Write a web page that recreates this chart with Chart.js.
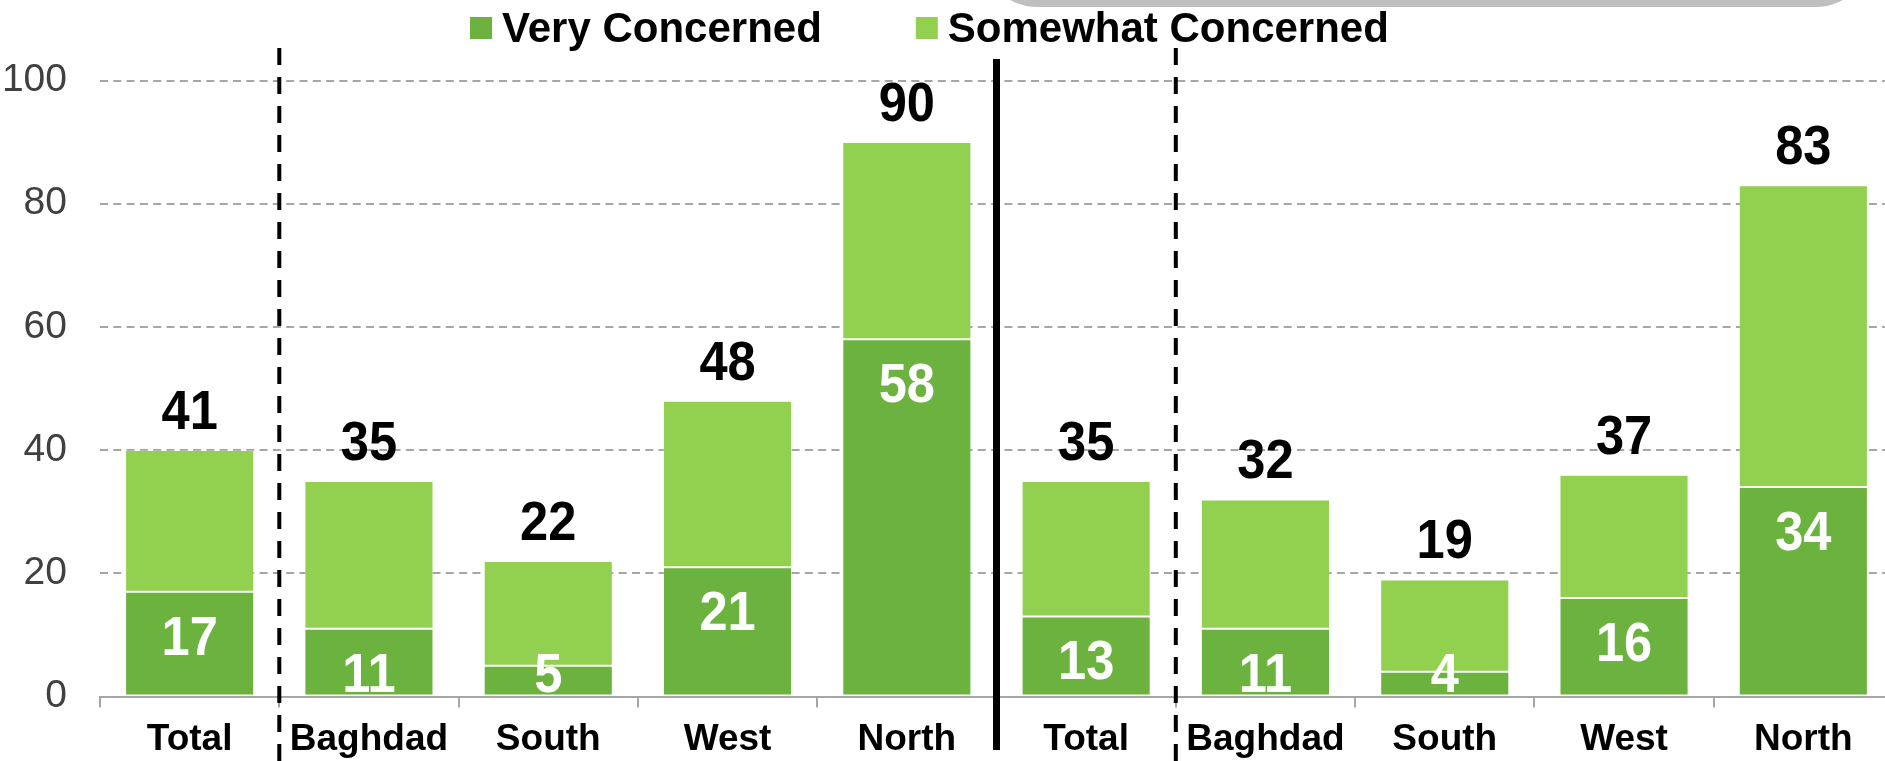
<!DOCTYPE html>
<html><head><meta charset="utf-8">
<script src="https://cdn.jsdelivr.net/npm/chart.js@4.4.0/dist/chart.umd.min.js"></script>
<style>html,body{margin:0;padding:0;background:#fff;overflow:hidden}#wrap{position:relative;width:1885px;height:761px;overflow:hidden}</style>
</head><body><div id="wrap"><canvas id="c" width="1893" height="761"></canvas></div>
<script>
const categories = ['Total','Baghdad','South','West','North','Total','Baghdad','South','West','North'];
const veryConcerned = [17,11,5,21,58,13,11,4,16,34];
const somewhatConcerned = [23,24,17,27,32,22,21,15,20,49];
const totalLabels = [41,35,22,48,90,35,32,19,37,83];
const yTicks = [0,20,40,60,80,100];
const seriesNames = ['Very Concerned','Somewhat Concerned'];
const separatorsAfter = [0,4,5];
const separatorStyles = ['dashed','solid','dashed'];

const FONT = "'Liberation Sans', Arial, Helvetica, sans-serif";
Chart.defaults.font.family = FONT;
const COLORS = ['#6BB23E','#92D050'];

const decoPlugin = {
  id:'deco',
  beforeDraw(chart){
    const ctx = chart.ctx;
    const x0=982, x1=1871, yb=7, r=55;
    ctx.save();
    ctx.fillStyle='#BFBFBF';
    ctx.beginPath();
    ctx.moveTo(x0,-100);
    ctx.lineTo(x0,yb-r);
    ctx.arc(x0+r,yb-r,r,Math.PI,Math.PI/2,true);
    ctx.lineTo(x1-r,yb);
    ctx.arc(x1-r,yb-r,r,Math.PI/2,0,true);
    ctx.lineTo(x1,-100);
    ctx.closePath();
    ctx.fill();
    ctx.restore();
  },
  afterDraw(chart){
    const ctx = chart.ctx;
    const xs = chart.scales.x;
    ctx.save();
    separatorsAfter.forEach((i,k)=>{
      const x = (xs.getPixelForValue(i)+xs.getPixelForValue(i+1))/2;
      ctx.strokeStyle='#000';
      ctx.beginPath();
      if(separatorStyles[k]==='solid'){
        ctx.setLineDash([]);
        ctx.lineWidth=7;
        ctx.moveTo(x,59); ctx.lineTo(x,750);
      } else {
        ctx.setLineDash([17,12]);
        ctx.lineWidth=4;
        ctx.moveTo(x,48); ctx.lineTo(x,761);
      }
      ctx.stroke();
    });
    ctx.setLineDash([]);
    ctx.font = "bold 42px " + FONT;
    ctx.textBaseline='alphabetic';
    ctx.textAlign='left';
    let x = 470;
    chart.data.datasets.forEach((ds)=>{
      ctx.fillStyle = ds.backgroundColor;
      ctx.fillRect(x,17,22,22);
      ctx.fillStyle='#000';
      ctx.fillText(ds.label, x+32, 42);
      x += 32 + ctx.measureText(ds.label).width + 94;
    });
    ctx.restore();
  },
  afterDatasetsDraw(chart){
    const ctx = chart.ctx;
    const y = chart.scales.y;
    const base = y.getPixelForValue(0);
    const m0 = chart.getDatasetMeta(0), m1 = chart.getDatasetMeta(1);
    ctx.save();
    ctx.font = "bold 55px " + FONT;
    ctx.textAlign='center';
    ctx.textBaseline='alphabetic';
    const drawCond = (txt, x, yy) => {
      ctx.save();
      ctx.translate(x, yy);
      ctx.scale(0.92, 1);
      ctx.fillText(txt, 0, 0);
      ctx.restore();
    };
    m0.data.forEach((bar,i)=>{
      ctx.fillStyle='#FFFFFF';
      drawCond(String(veryConcerned[i]), bar.x, Math.min(bar.y+63, base-5));
    });
    m1.data.forEach((bar,i)=>{
      ctx.fillStyle='#000000';
      drawCond(String(totalLabels[i]), bar.x, bar.y-21);
    });
    ctx.restore();
  }
};

new Chart(document.getElementById('c'), {
  type:'bar',
  data:{
    labels:categories,
    datasets:[
      {label:seriesNames[0], data:veryConcerned, backgroundColor:COLORS[0], borderColor:'rgba(255,255,255,0.18)', borderWidth:1, borderSkipped:false},
      {label:seriesNames[1], data:somewhatConcerned, backgroundColor:COLORS[1], borderColor:'rgba(255,255,255,0.18)', borderWidth:1, borderSkipped:false}
    ]
  },
  options:{
    responsive:false,
    animation:false,
    devicePixelRatio:1,
    layout:{padding:{top:80.5,right:0,left:0,bottom:0}},
    plugins:{legend:{display:false}, tooltip:{enabled:false}},
    datasets:{bar:{categoryPercentage:1, barPercentage:0.72}},
    scales:{
      x:{
        stacked:true, offset:true,
        afterFit:(s)=>{ s.height = 64.5; },
        grid:{offset:true, drawOnChartArea:false, drawTicks:true, tickLength:11, color:'#A6A6A6', lineWidth:2},
        border:{display:true, color:'#A6A6A6', width:2},
        ticks:{color:'#000', font:{size:37, weight:'bold'}, padding:10, maxRotation:0, autoSkip:false}
      },
      y:{
        stacked:true, min:0, max:100,
        afterBuildTicks:(s)=>{ s.ticks = yTicks.map(v=>({value:v})); },
        afterFit:(s)=>{ s.width = 100; },
        grid:{color:'#A6A6A6', lineWidth:2, drawTicks:false},
        border:{display:false, dash:[8,5.3]},
        ticks:{color:'#404040', font:{size:39}, padding:33}
      }
    }
  },
  plugins:[decoPlugin]
});
</script>
</body></html>
